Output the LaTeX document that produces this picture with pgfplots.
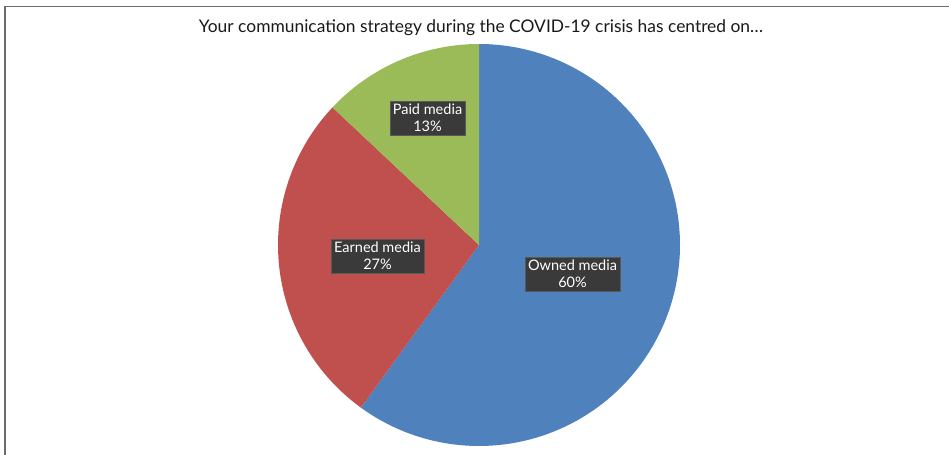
\documentclass[border=0pt]{standalone}
\usepackage{pgfplots}
\usepackage{pgfplotstable}
\pgfplotsset{compat=1.18}
\usepackage{fontspec}
\setmainfont{Lato}
\definecolor{cblue}{HTML}{4F81BD}
\definecolor{cred}{HTML}{C0504D}
\definecolor{cgreen}{HTML}{9BBB59}
\definecolor{lblbg}{HTML}{3A3A3A}
\pgfplotstableread{
label value
Owned 60
Earned 27
Paid 13
}\piedata
\begin{document}
\begin{tikzpicture}
\pgfplotstablegetelem{0}{value}\of\piedata \let\vA\pgfplotsretval
\pgfplotstablegetelem{1}{value}\of\piedata \let\vB\pgfplotsretval
\pgfplotstablegetelem{2}{value}\of\piedata \let\vC\pgfplotsretval
\pgfmathsetmacro{\aA}{90}
\pgfmathsetmacro{\aB}{90-3.6*\vA}
\pgfmathsetmacro{\aC}{\aB-3.6*\vB}
\pgfmathsetmacro{\aD}{\aC-3.6*\vC}
\path[use as bounding box] (0,0) rectangle (949bp,455bp);
\begin{axis}[
  at={(0,0)}, anchor=south west,
  width=949bp, height=455bp, scale only axis,
  xmin=0, xmax=949, ymin=0, ymax=455,
  hide axis, clip=false,
]
\addplot[fill=cblue, draw=none, domain=\aB:\aA, samples=150, variable=\t]
  ({479+201*cos(t)},{210+201*sin(t)}) -- (axis cs:479,210) -- cycle;
\addplot[fill=cred, draw=none, domain=\aC:\aB, samples=80, variable=\t]
  ({479+201*cos(t)},{210+201*sin(t)}) -- (axis cs:479,210) -- cycle;
\addplot[fill=cgreen, draw=none, domain=\aD:\aC, samples=50, variable=\t]
  ({479+201*cos(t)},{210+201*sin(t)}) -- (axis cs:479,210) -- cycle;
\draw[color=gray!85!black, line width=1.6bp] (axis cs:5,0) -- (axis cs:5,448.5) -- (axis cs:949,448.5);
\node[font=\fontsize{17.4bp}{20bp}\selectfont, text=black!90] at (axis cs:481,427) {Your communication strategy during the COVID-19 crisis has centred on…};
\tikzset{lbl/.style={fill=lblbg, draw=gray!45!lblbg, line width=0.5bp, text=white, align=center, inner xsep=3bp, inner ysep=3bp, font=\fontsize{14.5bp}{17bp}\selectfont}}
\node[lbl] at (axis cs:427.5,337) {Paid media\\\vC\%};
\node[lbl] at (axis cs:377.5,199) {Earned media\\\vB\%};
\node[lbl] at (axis cs:572.5,181) {Owned media\\\vA\%};
\end{axis}
\end{tikzpicture}
\end{document}
